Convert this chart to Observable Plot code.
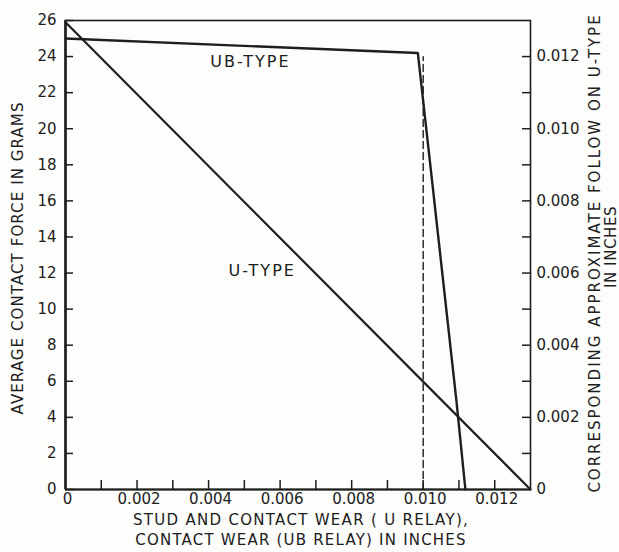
<!DOCTYPE html>
<html>
<head>
<meta charset="utf-8">
<script src="https://cdn.jsdelivr.net/npm/d3@7"></script>
<script src="https://cdn.jsdelivr.net/npm/@observablehq/plot@0.6"></script>
<style>
  html, body { margin: 0; padding: 0; background: #fdfdfb; }
  #chart svg { display: block; }
</style>
</head>
<body>
<div id="chart"></div>
<script>
// ---------- data ----------
// U-type: average contact force (g) vs stud and contact wear (in)
const uTypeWear  = [0, 0.013];
const uTypeForce = [25.9, 0];
// UB-type: average contact force (g) vs contact wear (in)
const ubTypeWear  = [0, 0.00985, 0.01026, 0.01093, 0.01118];
const ubTypeForce = [25.0, 24.2, 16.9, 4.9, 0];
// dashed reference line at 0.010 in
const dashWear  = [0.010, 0.010];
const dashForce = [0, 24.0];

// series labels
const seriesNames = ["UB-TYPE", "U-TYPE"];
const seriesLabelWear  = [0.00517, 0.0055];
const seriesLabelForce = [23.7, 12.1];

// axes
const xTickValues = [0, 0.002, 0.004, 0.006, 0.008, 0.010, 0.012];
const xTickLabels = ["0", "0.002", "0.004", "0.006", "0.008", "0.010", "0.012"];
const xMinorTicks = [0.001, 0.002, 0.003, 0.004, 0.005, 0.006, 0.007, 0.008, 0.009, 0.010, 0.011, 0.012];
const yTickValues = [0, 2, 4, 6, 8, 10, 12, 14, 16, 18, 20, 22, 24, 26];
const yTickLabels = ["0", "2", "4", "6", "8", "10", "12", "14", "16", "18", "20", "22", "24", "26"];
// right axis: corresponding approximate follow on U-type (in)
const followTickValues = [0, 0.002, 0.004, 0.006, 0.008, 0.010, 0.012];
const followTickLabels = ["0", "0.002", "0.004", "0.006", "0.008", "0.010", "0.012"];
const followMinorTicks = [0.001, 0.002, 0.003, 0.004, 0.005, 0.006, 0.007, 0.008, 0.009, 0.010, 0.011, 0.012];
const followAtFullScale = 0.013;  // follow that corresponds to 26 g
const forceFullScale = 26;

const xTitleLines = ["STUD AND CONTACT WEAR ( U RELAY),", "CONTACT WEAR (UB RELAY) IN INCHES"];
const yTitle = "AVERAGE CONTACT FORCE IN GRAMS";
const rightTitleLines = ["CORRESPONDING APPROXIMATE FOLLOW ON U-TYPE", "IN INCHES"];

// ---------- build ----------
const toForce = v => v * forceFullScale / followAtFullScale;
const uData  = uTypeWear.map((x, i) => ({x, y: uTypeForce[i]}));
const ubData = ubTypeWear.map((x, i) => ({x, y: ubTypeForce[i]}));
const dashData = dashWear.map((x, i) => ({x, y: dashForce[i]}));
const labelData = seriesNames.map((t, i) => ({t, x: seriesLabelWear[i], y: seriesLabelForce[i]}));

const ink = "#1c201c";
const font = "'DejaVu Sans', sans-serif";
const mL = 65, mR = 89, mT = 20, mB = 63, W = 619, H = 552;
const frameW = W - mL - mR, frameH = H - mT - mB;
const tickLen = 8;

const chart = Plot.plot({
  width: W, height: H,
  marginLeft: mL, marginRight: mR, marginTop: mT, marginBottom: mB,
  style: {background: "#fdfdfb", fontFamily: font, color: ink, fontSize: "15px"},
  x: {domain: [0, 0.013], axis: null},
  y: {domain: [0, 26], axis: null},
  marks: [
    Plot.frame({stroke: ink, strokeWidth: 1.6}),
    Plot.ruleX([0], {stroke: ink, strokeWidth: 2.6}),
    Plot.ruleY([0], {stroke: ink, strokeWidth: 2}),
    // inward ticks
    Plot.tickY(yTickValues, {y: d => d, insetRight: frameW - tickLen, stroke: ink, strokeWidth: 1.5}),
    Plot.tickX(xMinorTicks, {x: d => d, insetTop: frameH - tickLen - 1, stroke: ink, strokeWidth: 1.5}),
    Plot.tickY(followMinorTicks, {y: d => toForce(d), insetLeft: frameW - tickLen, stroke: ink, strokeWidth: 1.5}),
    // tick labels
    Plot.text(yTickValues, {y: d => d, frameAnchor: "left", textAnchor: "end", dx: -9,
      text: (d, i) => yTickLabels[i], fontSize: 15, fill: ink}),
    Plot.text(xTickValues, {x: d => d, frameAnchor: "bottom", dy: 14, dx: 2,
      text: (d, i) => xTickLabels[i], fontSize: 15, fill: ink}),
    Plot.text(followTickValues, {y: d => toForce(d), frameAnchor: "right", textAnchor: "start", dx: 6,
      text: (d, i) => followTickLabels[i], fontSize: 15, fill: ink}),
    // data
    Plot.line(dashData, {x: "x", y: "y", stroke: ink, strokeWidth: 1.4, strokeDasharray: "7,4"}),
    Plot.line(uData, {x: "x", y: "y", stroke: ink, strokeWidth: 2.2}),
    Plot.line(ubData, {x: "x", y: "y", stroke: ink, strokeWidth: 2.4, strokeLinejoin: "round"}),
    Plot.text(labelData, {x: "x", y: "y", text: "t", fontSize: 16, fill: ink}),
    // titles
    Plot.text([yTitle], {frameAnchor: "left", textAnchor: "middle", dx: -47, dy: 3, rotate: -90, fontSize: 15, fill: ink}),
    Plot.text([rightTitleLines[0]], {frameAnchor: "right", textAnchor: "middle", dx: 65, dy: -2, rotate: -90, fontSize: 15, fill: ink}),
    Plot.text([rightTitleLines[1]], {frameAnchor: "right", textAnchor: "middle", dx: 81, dy: -8, rotate: -90, fontSize: 15, fill: ink}),
    Plot.text([xTitleLines[0]], {frameAnchor: "bottom", textAnchor: "middle", dy: 35, dx: 3, fontSize: 15, fill: ink}),
    Plot.text([xTitleLines[1]], {frameAnchor: "bottom", textAnchor: "middle", dy: 55, dx: 3, fontSize: 15, fill: ink})
  ]
});
document.getElementById("chart").appendChild(chart);

// letter spacing for the lettered titles and labels
const spacing = new Map([
  [yTitle, 1.1], [rightTitleLines[0], 2.0], [rightTitleLines[1], 0.6],
  [xTitleLines[0], 1.3], [xTitleLines[1], 1.2], ["UB-TYPE", 2], ["U-TYPE", 2]
]);
d3.select(chart).selectAll("text").each(function() {
  const s = spacing.get(this.textContent);
  if (s != null) this.setAttribute("letter-spacing", s);
});
</script>
</body>
</html>
